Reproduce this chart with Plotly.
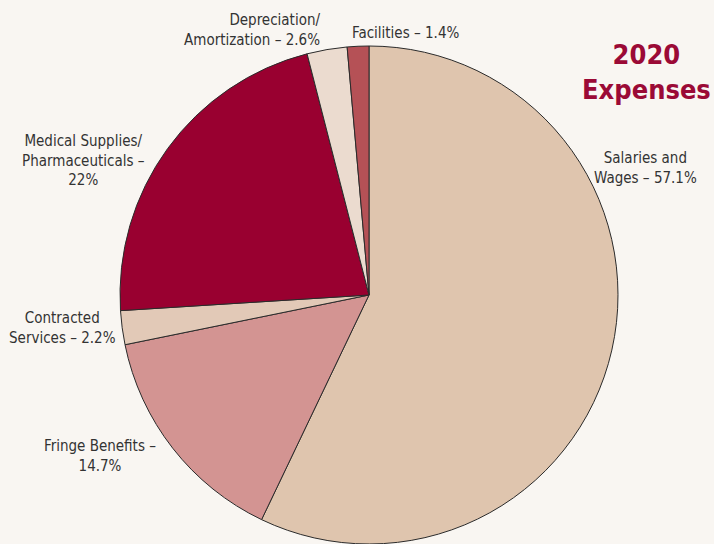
import plotly.graph_objects as go

categories = ["Salaries and Wages", "Fringe Benefits", "Contracted Services",
              "Medical Supplies/Pharmaceuticals", "Depreciation/Amortization", "Facilities"]
values = [57.1, 14.7, 2.2, 22.0, 2.6, 1.4]
label_texts = [
    "Salaries and<br>Wages – 57.1%",
    "Fringe Benefits –<br>14.7%",
    "Contracted<br>Services – 2.2%",
    "Medical Supplies/<br>Pharmaceuticals –<br>22%",
    "Depreciation/<br>Amortization – 2.6%",
    "Facilities – 1.4%",
]
colors = ["#dfc5ae", "#d39492", "#e2c9b7", "#990030", "#ebdbcf", "#b55156"]

W, H = 714, 544
FONT = "DejaVu Sans Condensed, Liberation Sans Narrow, sans-serif"

fig = go.Figure(go.Pie(
    labels=categories, values=values, sort=False, direction="clockwise", rotation=0,
    marker=dict(colors=colors, line=dict(color="#2b2b2b", width=1)),
    textinfo="none", hoverinfo="label+percent", showlegend=False,
    domain=dict(x=[120 / W, 618 / W], y=[0, 498 / H]),
))

# label anchor positions (pixel x, pixel y of text center, alignment)
label_pos = [
    (645, 168, "center"),
    (100, 456, "center"),
    (62, 328, "center"),
    (83, 161, "center"),
    (322, 30, "right"),
    (405, 33, "center"),
]
anns = []
for t, (px, py, al) in zip(label_texts, label_pos):
    anns.append(dict(text=t, x=px / W, y=1 - py / H, xref="paper", yref="paper",
                     xanchor=al, yanchor="middle", align=al, showarrow=False,
                     font=dict(family=FONT, size=15, color="#333333")))
anns.append(dict(text="<b>2020<br>Expenses</b>", x=646 / W, y=1 - 72 / H, xref="paper", yref="paper",
                 xanchor="center", yanchor="middle", align="center", showarrow=False,
                 font=dict(family=FONT, size=27, color="#9b0a36")))

fig.update_layout(width=W, height=H, margin=dict(l=0, r=0, t=0, b=0),
                  paper_bgcolor="#f9f6f2", plot_bgcolor="#f9f6f2",
                  annotations=anns)
fig.write_html("out.html", config={"displayModeBar": False},
               post_script="document.body.style.margin='0';document.body.style.overflow='hidden';")
